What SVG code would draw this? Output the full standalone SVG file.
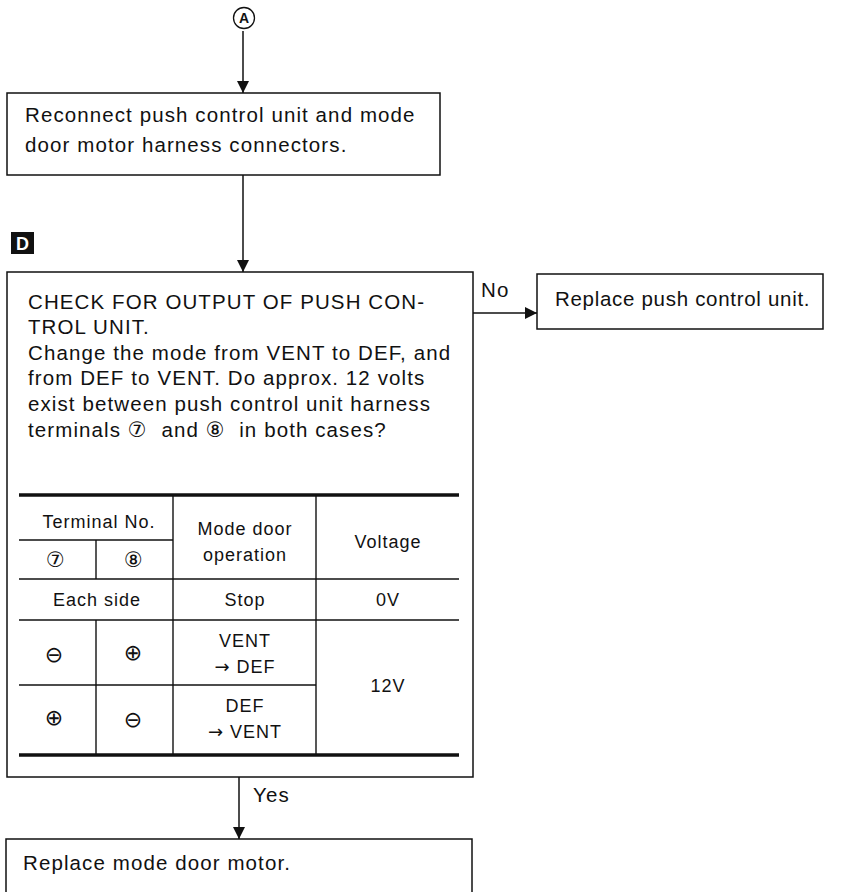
<svg xmlns="http://www.w3.org/2000/svg" width="850" height="892" viewBox="0 0 850 892">
<style>
  text { font-family: "Liberation Sans", Arial, "DejaVu Sans", "Noto Sans CJK JP", sans-serif; fill: #111; }
  .box { fill: #fff; stroke: #111; stroke-width: 1.5; }
  .big { font-size: 20.5px; letter-spacing: 1.1px; }
  .tb { font-size: 18px; letter-spacing: 1px; text-anchor: middle; }
  .circ { font-size: 21px; font-family: "DejaVu Sans", "Noto Sans CJK JP", sans-serif; }
  .sym { font-size: 22px; font-family: "DejaVu Sans", sans-serif; text-anchor: middle; letter-spacing: 0; }
  .ar { font-family: "DejaVu Sans", sans-serif; }
  .ln { stroke: #111; stroke-width: 1.4; fill: none; }
  .thick { stroke: #111; stroke-width: 3.5; fill: none; }
  .conn { stroke: #111; stroke-width: 1.5; fill: none; }
</style>
<defs>
  <marker id="arr" viewBox="0 0 10 10" refX="10" refY="5" markerWidth="12" markerHeight="12" markerUnits="userSpaceOnUse" orient="auto">
    <path d="M0,0 L10,5 L0,10 Z" fill="#111"/>
  </marker>
</defs>
<rect width="850" height="892" fill="#fff"/>

<g id="connectors">
  <line class="conn" x1="243" y1="31" x2="243" y2="93" marker-end="url(#arr)"/>
  <line class="conn" x1="243" y1="175" x2="243" y2="272" marker-end="url(#arr)"/>
  <line class="conn" x1="473" y1="313" x2="537" y2="313" marker-end="url(#arr)"/>
  <line class="conn" x1="239" y1="777" x2="239" y2="839" marker-end="url(#arr)"/>
  <text class="big" x="481" y="297">No</text>
  <text class="big" x="253" y="802">Yes</text>
</g>

<g id="nodeA">
  <circle cx="244" cy="18" r="10.5" fill="#fff" stroke="#111" stroke-width="1.3"/>
  <text x="244" y="23" font-size="14" font-weight="bold" text-anchor="middle">A</text>
</g>

<g id="reconnect">
  <rect class="box" x="7" y="93" width="433" height="82"/>
  <text class="big" x="25" y="122">Reconnect push control unit and mode</text>
  <text class="big" x="25" y="152">door motor harness connectors.</text>
</g>

<g id="labelD">
  <rect x="11" y="232" width="23" height="22" fill="#111"/>
  <text x="22.5" y="250" font-size="18" font-weight="bold" text-anchor="middle" style="fill:#fff">D</text>
</g>

<g id="check">
  <rect class="box" x="7" y="272" width="466" height="505"/>
  <text class="big" x="28" y="309">CHECK FOR OUTPUT OF PUSH CON-</text>
  <text class="big" x="28" y="334">TROL UNIT.</text>
  <text class="big" x="28" y="360">Change the mode from VENT to DEF, and</text>
  <text class="big" x="28" y="385">from DEF to VENT. Do approx. 12 volts</text>
  <text class="big" x="28" y="411">exist between push control unit harness</text>
  <text class="big" x="28" y="437" xml:space="preserve">terminals <tspan class="circ">⑦</tspan>  and <tspan class="circ">⑧</tspan>  in both cases?</text>

  <g id="table">
    <line class="thick" x1="19" y1="495" x2="459" y2="495"/>
    <line class="thick" x1="19" y1="755" x2="459" y2="755"/>
    <line class="ln" x1="19" y1="540" x2="173" y2="540"/>
    <line class="ln" x1="19" y1="579" x2="459" y2="579"/>
    <line class="ln" x1="19" y1="620" x2="459" y2="620"/>
    <line class="ln" x1="19" y1="685" x2="316" y2="685"/>
    <line class="ln" x1="173" y1="495" x2="173" y2="755"/>
    <line class="ln" x1="316" y1="495" x2="316" y2="755"/>
    <line class="ln" x1="96" y1="540" x2="96" y2="579"/>
    <line class="ln" x1="96" y1="620" x2="96" y2="755"/>

    <text class="tb" x="99" y="528">Terminal No.</text>
    <text class="tb circ" x="56" y="567">⑦</text>
    <text class="tb circ" x="134" y="567">⑧</text>
    <text class="tb" x="245" y="535">Mode door</text>
    <text class="tb" x="245" y="561">operation</text>
    <text class="tb" x="388" y="548">Voltage</text>

    <text class="tb" x="97" y="606">Each side</text>
    <text class="tb" x="245" y="606">Stop</text>
    <text class="tb" x="388" y="606">0V</text>

    <text class="sym" x="54" y="662">⊖</text>
    <text class="sym" x="133" y="660">⊕</text>
    <text class="tb" x="245" y="647">VENT</text>
    <text class="tb" x="245" y="673"><tspan class="ar">→</tspan> DEF</text>

    <text class="sym" x="54" y="725">⊕</text>
    <text class="sym" x="133" y="727">⊖</text>
    <text class="tb" x="245" y="712">DEF</text>
    <text class="tb" x="245" y="738"><tspan class="ar">→</tspan> VENT</text>

    <text class="tb" x="388" y="692">12V</text>
  </g>
</g>

<g id="replacePush">
  <rect class="box" x="537" y="274" width="286" height="55"/>
  <text class="big" x="555" y="306" style="letter-spacing:0.7px">Replace push control unit.</text>
</g>

<g id="replaceMotor">
  <rect class="box" x="6" y="839" width="466" height="60"/>
  <text class="big" x="23" y="870">Replace mode door motor.</text>
</g>
</svg>
